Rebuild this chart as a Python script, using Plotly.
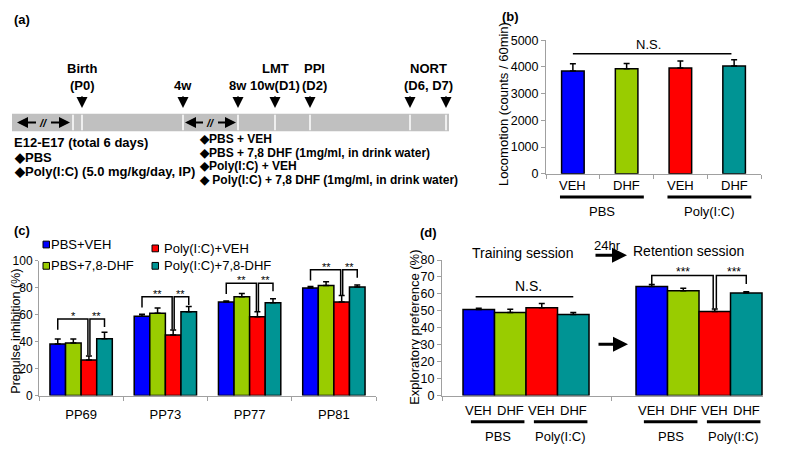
import plotly.graph_objects as go

W, H = 779, 444      # figure size (page body has an 8px margin)
OFF = 8
FONT = "Liberation Sans, Arial, sans-serif"
AXC = "#A0A0A0"

colors = ["#0000FF", "#99CC00", "#FF0000", "#009494"]

# ---------------- panel (a) timeline ----------------
event_top = ["Birth", "", "", "LMT", "PPI", "NORT"]
event_bottom = ["(P0)", "4w", "8w", "10w(D1)", "(D2)", "(D6, D7)"]
left_lines = ["E12-E17 (total 6 days)", "◆PBS", "◆Poly(I:C) (5.0 mg/kg/day, IP)"]
right_lines = ["◆PBS + VEH", "◆PBS + 7,8 DHF (1mg/ml, in drink water)",
               "◆Poly(I:C) + VEH", "◆ Poly(I:C) + 7,8 DHF (1mg/ml, in drink water)"]

# ---------------- panel (b) locomotion ----------------
loc_labels = ["VEH", "DHF", "VEH", "DHF"]
loc_groups = ["PBS", "Poly(I:C)"]
loc_mean = [3850, 3930, 3960, 4030]
loc_err = [270, 200, 260, 240]

# ---------------- panel (c) PPI ----------------
ppi_cats = ["PP69", "PP73", "PP77", "PP81"]
series_names = ["PBS+VEH", "PBS+7,8-DHF", "Poly(I:C)+VEH", "Poly(I:C)+7,8-DHF"]
ppi_pbs_veh = [38.3, 59.0, 69.5, 79.9]
ppi_pbs_dhf = [39.0, 61.2, 73.4, 81.8]
ppi_pic_veh = [26.5, 45.1, 58.5, 69.5]
ppi_pic_dhf = [42.2, 62.3, 69.0, 80.6]
ppi_pbs_veh_err = [3.7, 1.5, 0.8, 1.1]
ppi_pbs_dhf_err = [3.0, 3.8, 2.5, 2.8]
ppi_pic_veh_err = [3.0, 3.6, 3.8, 4.8]
ppi_pic_dhf_err = [4.8, 3.9, 3.0, 1.6]
ppi_sig_left = ["*", "**", "**", "**"]
ppi_sig_right = ["**", "**", "**", "**"]
ppi_sig_height = [57, 73.4, 83.5, 93.5]

# ---------------- panel (d) NORT ----------------
nort_labels = ["VEH", "DHF", "VEH", "DHF"]
nort_groups = ["PBS", "Poly(I:C)"]
train_mean = [50.8, 49.0, 51.8, 47.8]
train_err = [0.8, 2.0, 2.5, 1.3]
ret_mean = [64.4, 61.8, 49.6, 60.5]
ret_err = [1.2, 1.5, 1.5, 0.8]
ret_sig = ["***", "***"]
ret_sig_height = 70.9


def px(x):
    return (x - OFF) / W


def py(y):
    return 1 - (y - OFF) / H


fig = go.Figure()
shapes = []
anns = []


def text(x, y, t, size=13, xanchor="center", yanchor="middle", bold=False, xref="paper", yref="paper", **kw):
    if bold:
        t = "<b>" + t + "</b>"
    anns.append(dict(x=x, y=y, xref=xref, yref=yref, text=t, showarrow=False,
                     xanchor=xanchor, yanchor=yanchor,
                     font=dict(family=FONT, size=size, color="black"), **kw))


# ======== (a) ========
text(px(12), py(13), "(a)", bold=True, xanchor="left")
shapes.append(dict(type="rect", xref="paper", yref="paper", x0=px(12), x1=px(449), y0=py(128), y1=py(110),
                   fillcolor="#C0C0C0", line=dict(width=0), layer="below"))
for xx in [73, 82, 183, 238, 275, 310, 410, 446]:
    shapes.append(dict(type="line", xref="paper", yref="paper", x0=px(xx), x1=px(xx), y0=py(127), y1=py(111),
                       line=dict(color="white", width=1.5)))
event_x = [82, 183, 238, 275, 314, 428]
arrow_x = [82, 183, 238, 275, 310, 410, 446]
for t, b, xx in zip(event_top, event_bottom, event_x):
    if t:
        text(px(xx), py(63), t, bold=True)
    text(px(xx), py(81), b, bold=True)
for xx in arrow_x:
    anns.append(dict(x=px(xx), y=py(104), xref="paper", yref="paper", ax=0, ay=-13, showarrow=True,
                     arrowhead=2, arrowsize=1.1, arrowwidth=2, arrowcolor="black", text=""))
# double arrows with // break
for x0, x1 in [(17, 70), (185, 236)]:
    mid = (x0 + x1) / 2
    anns.append(dict(x=px(x0), y=py(119), xref="paper", yref="paper", ax=mid - 6 - x0, ay=0, showarrow=True,
                     arrowhead=2, arrowsize=1.1, arrowwidth=2, arrowcolor="black", text=""))
    anns.append(dict(x=px(x1), y=py(119), xref="paper", yref="paper", ax=mid + 6 - x1, ay=0, showarrow=True,
                     arrowhead=2, arrowsize=1.1, arrowwidth=2, arrowcolor="black", text=""))
    text(px(mid), py(119), "<i>//</i>", size=11, bold=True)
for i, t in enumerate(left_lines):
    text(px(12), py(140 + 15 * i), t, bold=True, xanchor="left")
for i, t in enumerate(right_lines):
    text(px(197), py(136 + 14 * i), t, size=12, bold=True, xanchor="left")

# ======== (b) ========
text(px(500), py(10), "(b)", bold=True, xanchor="left")
for i in range(4):
    fig.add_trace(go.Bar(x=[i], y=[loc_mean[i]], width=0.42, marker=dict(color=colors[i], line=dict(color="black", width=1.5)),
                         error_y=dict(type="data", array=[loc_err[i]], arrayminus=[0], color="black", thickness=1.5, width=3),
                         xaxis="x", yaxis="y", showlegend=False))
for i, t in enumerate(loc_labels):
    text(i, py(184), t, xref="x")
for g, name in enumerate(loc_groups):
    a, b = 2 * g, 2 * g + 1
    shapes.append(dict(type="line", xref="x", yref="paper", x0=a - 0.24, x1=b + 0.32, y0=py(196), y1=py(196),
                       line=dict(color="black", width=3)))
    text((a + b) / 2 + 0.04, py(211), name, xref="x")
shapes.append(dict(type="line", xref="x", yref="y", x0=0, x1=2.95, y0=4490, y1=4490, line=dict(color="black", width=1.5)))
text(1.4, 4500, "N.S.", xref="x", yref="y", yanchor="bottom")
text(px(503), py(100), "Locomotion (counts / 60min)", textangle=-90)

# ======== (c) ========
text(px(12), py(231), "(c)", bold=True, xanchor="left")
ppi_series = [ppi_pbs_veh, ppi_pbs_dhf, ppi_pic_veh, ppi_pic_dhf]
ppi_errs = [ppi_pbs_veh_err, ppi_pbs_dhf_err, ppi_pic_veh_err, ppi_pic_dhf_err]
bw = 0.185
offs = [(-1.5 + k) * bw for k in range(4)]
for k in range(4):
    fig.add_trace(go.Bar(x=[g + offs[k] for g in range(4)], y=ppi_series[k], width=bw, name=series_names[k],
                         marker=dict(color=colors[k], line=dict(color="black", width=1.5)),
                         error_y=dict(type="data", array=ppi_errs[k], arrayminus=[0] * 4, color="black", thickness=1.5, width=3),
                         xaxis="x2", yaxis="y2", showlegend=False))
for g in range(4):
    h = ppi_sig_height[g]
    xl, xr = g + offs[0], g + offs[3]
    xm = g + offs[2]
    redtop = ppi_pic_veh[g] + ppi_pic_veh_err[g]
    line = dict(color="black", width=1.5)
    shapes.append(dict(type="path", xref="x2", yref="y2",
                       path=f"M {xl},{h - 8} L {xl},{h} L {xm - 0.012},{h} L {xm - 0.012},{redtop + 0.5}", line=line))
    shapes.append(dict(type="path", xref="x2", yref="y2",
                       path=f"M {xm + 0.012},{redtop + 0.5} L {xm + 0.012},{h} L {xr},{h} L {xr},{h - 6}", line=line))
    text((xl + xm) / 2, h, ppi_sig_left[g], size=11, xref="x2", yref="y2", yshift=3)
    text((xm + xr) / 2, h, ppi_sig_right[g], size=11, xref="x2", yref="y2", yshift=3)
# legend
leg_pos = [(43, 245, 49), (43, 267, 49), (152, 249, 162), (152, 267, 162)]
for k, (sx, sy, tx) in enumerate(leg_pos):
    shapes.append(dict(type="rect", xref="paper", yref="paper", x0=px(sx), x1=px(sx + 6.5), y0=py(sy + 3.5), y1=py(sy - 3.5),
                       fillcolor=colors[k], line=dict(color="black", width=1)))
    text(px(tx), py(sy), series_names[k], xanchor="left")
text(px(16), py(335), "Prepulse inhibition (%)", size=12.5, textangle=-90)

# ======== (d) ========
text(px(418), py(233), "(d)", bold=True, xanchor="left")
train_x = [1.167 + i for i in range(4)]
ret_x = [6.659 + i for i in range(4)]
for i in range(4):
    fig.add_trace(go.Bar(x=[train_x[i], ret_x[i]], y=[train_mean[i], ret_mean[i]], width=1.0,
                         marker=dict(color=colors[i], line=dict(color="black", width=1.5)),
                         error_y=dict(type="data", array=[train_err[i], ret_err[i]], arrayminus=[0, 0], color="black", thickness=1.5, width=3),
                         xaxis="x3", yaxis="y3", showlegend=False))
for xs in (train_x, ret_x):
    for i, t in enumerate(nort_labels):
        text(xs[i], py(416), t, xref="x3")
    for g, name in enumerate(nort_groups):
        a, b = xs[2 * g], xs[2 * g + 1]
        shapes.append(dict(type="line", xref="x3", yref="paper", x0=a - 0.25, x1=b + 0.45, y0=py(428), y1=py(428),
                           line=dict(color="black", width=3)))
        text((a + b) / 2 + 0.1, py(443), name, xref="x3")
shapes.append(dict(type="line", xref="x3", yref="y3", x0=train_x[0] - 0.1, x1=train_x[3], y0=58.3, y1=58.3,
                   line=dict(color="black", width=1.5)))
text(2.73, 58.5, "N.S.", xref="x3", yref="y3", yanchor="bottom", size=14)
h = ret_sig_height
redtop = ret_mean[2] + ret_err[2]
line = dict(color="black", width=1.5)
shapes.append(dict(type="path", xref="x3", yref="y3",
                   path=f"M {ret_x[0]},{h - 5} L {ret_x[0]},{h} L {ret_x[2] - 0.05},{h} L {ret_x[2] - 0.05},{redtop + 0.3}", line=line))
shapes.append(dict(type="path", xref="x3", yref="y3",
                   path=f"M {ret_x[2] + 0.05},{redtop + 0.3} L {ret_x[2] + 0.05},{h} L {ret_x[3]},{h} L {ret_x[3]},{h - 5}", line=line))
text((ret_x[0] + ret_x[2]) / 2, h, ret_sig[0], size=12, xref="x3", yref="y3", yshift=3)
text((ret_x[2] + ret_x[3]) / 2 + 0.1, h, ret_sig[1], size=12, xref="x3", yref="y3", yshift=3)
text(px(522), py(254), "Training session", size=14)
text(px(688), py(252), "Retention session", size=14)
text(px(607), py(246), "24hr", size=13)
anns.append(dict(x=px(627), y=py(256), xref="paper", yref="paper", ax=-33, ay=0, showarrow=True,
                 arrowhead=2, arrowsize=1, arrowwidth=3, arrowcolor="black", text=""))
anns.append(dict(x=px(628), y=py(348), xref="paper", yref="paper", ax=-31, ay=0, showarrow=True,
                 arrowhead=2, arrowsize=1, arrowwidth=3, arrowcolor="black", text=""))
text(px(415), py(330), "Exploratory preference (%)", textangle=-90)

axis_common = dict(showline=True, linecolor=AXC, linewidth=1, showgrid=False, zeroline=False,
                   ticks="outside", ticklen=4, tickcolor=AXC, tickfont=dict(family=FONT, size=12.5, color="black"))

fig.update_layout(
    width=W, height=H, margin=dict(l=0, r=0, t=0, b=0),
    paper_bgcolor="white", plot_bgcolor="white", barmode="overlay",
    font=dict(family=FONT, size=13, color="black"),
    xaxis=dict(domain=[px(546), px(761)], range=[-0.5, 3.5], anchor="y",
               tickvals=[-0.5, 0.5, 1.5, 2.5, 3.5], showticklabels=False, **axis_common),
    yaxis=dict(domain=[py(172), py(34)], range=[0, 5000], dtick=1000, anchor="x", **axis_common),
    xaxis2=dict(domain=[px(39), px(376)], range=[-0.5, 3.5], anchor="y2",
                tickvals=list(range(4)), ticktext=ppi_cats, ticklabelstandoff=7,
                **{**axis_common, "ticks": "", "tickfont": dict(family=FONT, size=13, color="black")},
                minor=dict(tickvals=[-0.5, 0.5, 1.5, 2.5, 3.5], ticks="outside", ticklen=4, tickcolor=AXC)),
    yaxis2=dict(domain=[py(401), py(262)], range=[0, 100], dtick=20, anchor="x2",
                **{**axis_common, "ticklen": 3, "tickfont": dict(family=FONT, size=12, color="black")}),
    xaxis3=dict(domain=[px(442), px(763)], range=[0, 10.19], anchor="y3",
                tickvals=[0, 5.37], showticklabels=False, **axis_common),
    yaxis3=dict(domain=[py(401), py(261)], range=[0, 80], dtick=10, anchor="x3", **axis_common),
    shapes=shapes, annotations=anns,
)

fig.write_html("out.html")
